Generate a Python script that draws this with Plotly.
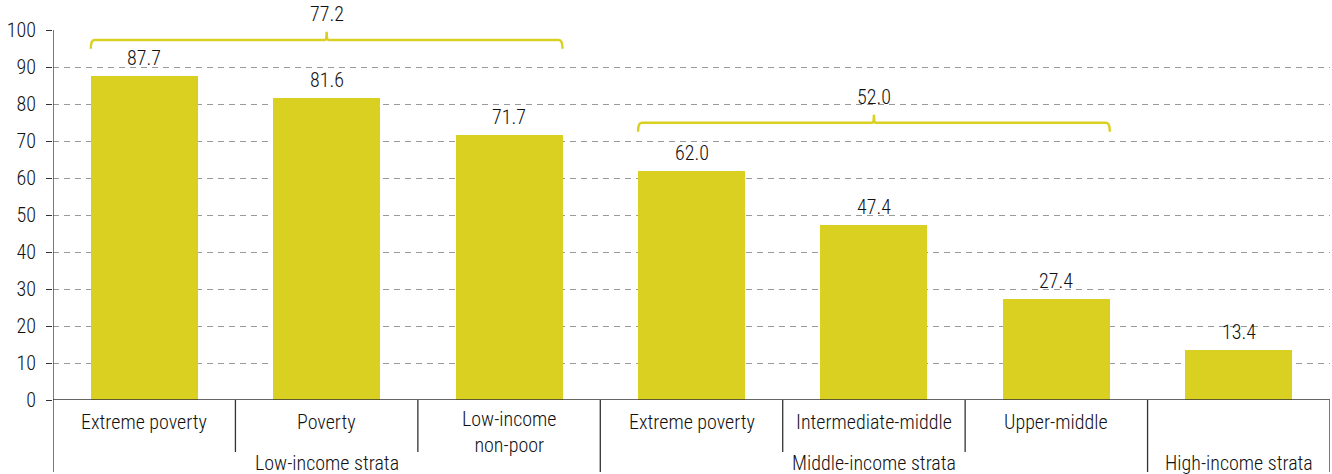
import plotly.graph_objects as go

# Categories and values
categories = ["Extreme poverty", "Poverty", "Low-income<br>non-poor",
              "Extreme poverty", "Intermediate-middle", "Upper-middle", ""]
values = [87.7, 81.6, 71.7, 62.0, 47.4, 27.4, 13.4]
groups = ["Low-income strata", "Middle-income strata", "High-income strata"]
group_spans = [(0, 2), (3, 5), (6, 6)]
# Group averages shown above brackets
group_avgs = [77.2, 52.0]
bracket_heights = [97.3, 74.9]
y_ticks = [0, 10, 20, 30, 40, 50, 60, 70, 80, 90, 100]

BAR_COLOR = "#D9D022"
TEXT_COLOR = "#111111"
AXIS_COLOR = "#333333"
FONT = "Roboto Condensed, Liberation Sans Narrow, DejaVu Sans Condensed, sans-serif"
FS = 20
FW = 300

W, H = 1332, 474
M_L, M_R, M_T, M_B = 53, 2, 30, 74
plot_h = H - M_T - M_B
BAR_W = 0.586


def tfont(size=FS):
    return dict(family=FONT, size=size, color=TEXT_COLOR, weight=FW)


x = list(range(len(values)))

fig = go.Figure()
fig.add_trace(go.Bar(
    x=x, y=values, width=BAR_W,
    marker=dict(color=BAR_COLOR, line=dict(width=0)),
    hoverinfo="skip",
))

shapes = []
annotations = []

# Value labels above bars
for i, v in enumerate(values):
    annotations.append(dict(
        x=i, y=v, xref="x", yref="y", text=f"{v:.1f}", showarrow=False,
        yanchor="bottom", yshift=4, font=tfont(),
    ))

# Category labels under the axis
for i, c in enumerate(categories):
    if not c:
        continue
    two = "<br>" in c
    annotations.append(dict(
        x=i, y=0, xref="x", yref="y", text=c, showarrow=False,
        yanchor="middle", yshift=-31.5 if two else -22, font=tfont(),
    ))

# Group labels
for g, (a, b) in zip(groups, group_spans):
    annotations.append(dict(
        x=(a + b) / 2, y=0, xref="x", yref="y", text=g, showarrow=False,
        yanchor="middle", yshift=-63, font=tfont(),
    ))

# Divider lines between categories
group_edges = {-0.5} | {b + 0.5 for _, b in group_spans}
for k in range(len(values) + 1):
    xe = k - 0.5
    long = xe in group_edges
    y1 = -72 / plot_h if long else -52 / plot_h
    y0 = 1 if k == 0 else 0
    shapes.append(dict(type="line", xref="x", yref="paper", x0=xe, x1=xe,
                       y0=y0, y1=y1, line=dict(color=AXIS_COLOR, width=1.3)))

# Baseline
shapes.append(dict(type="line", xref="paper", yref="y", x0=0, x1=1, y0=0, y1=0,
                   line=dict(color=AXIS_COLOR, width=1.5)))

# Brackets over the first two groups
half = BAR_W / 2
for (a, b), avg, h in zip(group_spans[:2], group_avgs, bracket_heights):
    xl, xr = a - half, b + half
    xc = (xl + xr) / 2
    d, t, rx, rc = 2.4, 2.2, 0.02, 0.008
    path = (f"M {xl},{h - d} Q {xl},{h} {xl + rx},{h} "
            f"L {xc - rc},{h} Q {xc},{h} {xc},{h + t} "
            f"Q {xc},{h} {xc + rc},{h} L {xr - rx},{h} Q {xr},{h} {xr},{h - d}")
    shapes.append(dict(type="path", xref="x", yref="y", path=path,
                       line=dict(color=BAR_COLOR, width=2.5)))
    annotations.append(dict(
        x=xc, y=h + t, xref="x", yref="y", text=f"{avg:.1f}", showarrow=False,
        yanchor="bottom", yshift=4, font=tfont(),
    ))

fig.update_layout(
    width=W, height=H,
    margin=dict(l=M_L, r=M_R, t=M_T, b=M_B),
    plot_bgcolor="white", paper_bgcolor="white",
    showlegend=False, bargap=0,
    shapes=shapes, annotations=annotations,
    font=tfont(),
    xaxis=dict(range=[-0.5, 6.5], showticklabels=False, showgrid=False,
               zeroline=False, showline=False, ticks=""),
    yaxis=dict(range=[0, 100], tickvals=y_ticks, ticks="outside", ticklen=6,
               tickcolor=AXIS_COLOR, tickwidth=1.3, showline=False,
               showgrid=True, gridcolor="#9a9a9a", gridwidth=1, griddash="6px,5px",
               zeroline=False, tickfont=tfont(), ticklabelstandoff=6),
)

fig.write_html("out.html")
